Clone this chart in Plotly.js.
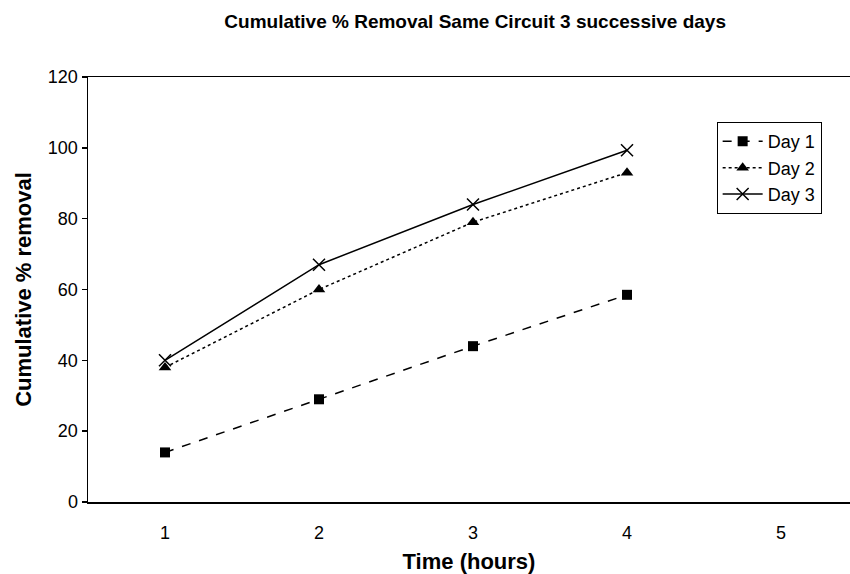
<!DOCTYPE html>
<html>
<head>
<meta charset="utf-8">
<script src="https://cdn.plot.ly/plotly-3.0.1.min.js"></script>
<style>html,body{margin:0;padding:0;background:#fff;}#chart{width:850px;height:574px;}</style>
</head>
<body>
<div id="chart"></div>
<script>
const hours = [1, 2, 3, 4];
const day1 = [14, 29, 44, 58.5];
const day2 = [38, 60, 79, 93];
const day3 = [40, 67, 84, 99.3];
const seriesNames = ["Day 1", "Day 2", "Day 3"];
const xTicks = [1, 2, 3, 4, 5];
const yTicks = [0, 20, 40, 60, 80, 100, 120];

const FONT = "Liberation Sans, Arial, sans-serif";

const traces = [
  {x: hours, y: day1, name: seriesNames[0], mode: "lines+markers", type: "scatter",
   line: {color: "#000", width: 1.5, dash: "dash"},
   marker: {symbol: "square", size: 10, color: "#000"}},
  {x: hours, y: day2, name: seriesNames[1], mode: "lines+markers", type: "scatter",
   line: {color: "#000", width: 1.5, dash: "dot"},
   marker: {symbol: "triangle-up", size: 11, color: "#000"}},
  {x: hours, y: day3, name: seriesNames[2], mode: "lines+markers", type: "scatter",
   line: {color: "#000", width: 1.5, dash: "solid"},
   marker: {symbol: "x-thin", size: 12, color: "#000", line: {color: "#000", width: 1.5}}}
];

const layout = {
  width: 850, height: 574,
  margin: {l: 88, r: 0, t: 77, b: 72},
  paper_bgcolor: "#fff", plot_bgcolor: "#fff",
  font: {family: FONT, color: "#000"},
  showlegend: true,
  title: {text: "Cumulative % Removal Same Circuit 3 successive days",
          font: {family: FONT, size: 19, weight: "bold", color: "#000"},
          x: 0.559, xanchor: "center", y: 0.963, yanchor: "middle"},
  xaxis: {
    range: [0.5, 5.448], tickvals: xTicks, ticktext: xTicks.map(String),
    showgrid: false, zeroline: false, showline: true, linecolor: "#000", linewidth: 1.5,
    mirror: true, ticks: "", ticklabelstandoff: 14,
    tickfont: {family: FONT, size: 18, color: "#000"},
    title: {text: "Time (hours)", font: {family: FONT, size: 22, weight: "bold", color: "#000"}, standoff: 12}
  },
  yaxis: {
    range: [0, 120], tickvals: yTicks, ticktext: yTicks.map(String),
    showgrid: false, zeroline: false, showline: true, linecolor: "#000", linewidth: 1.5,
    ticks: "outside", ticklen: 5, tickwidth: 1.5, tickcolor: "#000",
    tickfont: {family: FONT, size: 18, color: "#000"},
    title: {text: "Cumulative % removal", font: {family: FONT, size: 22, weight: "bold", color: "#000"}, standoff: 10}
  },
  legend: {
    x: 0.825, y: 0.894, xanchor: "left", yanchor: "top",
    bgcolor: "#fff", bordercolor: "#000", borderwidth: 1,
    font: {family: FONT, size: 18, color: "#000"},
    itemwidth: 40
  }
};

Plotly.newPlot("chart", traces, layout, {displayModeBar: false, staticPlot: true});
</script>
</body>
</html>
